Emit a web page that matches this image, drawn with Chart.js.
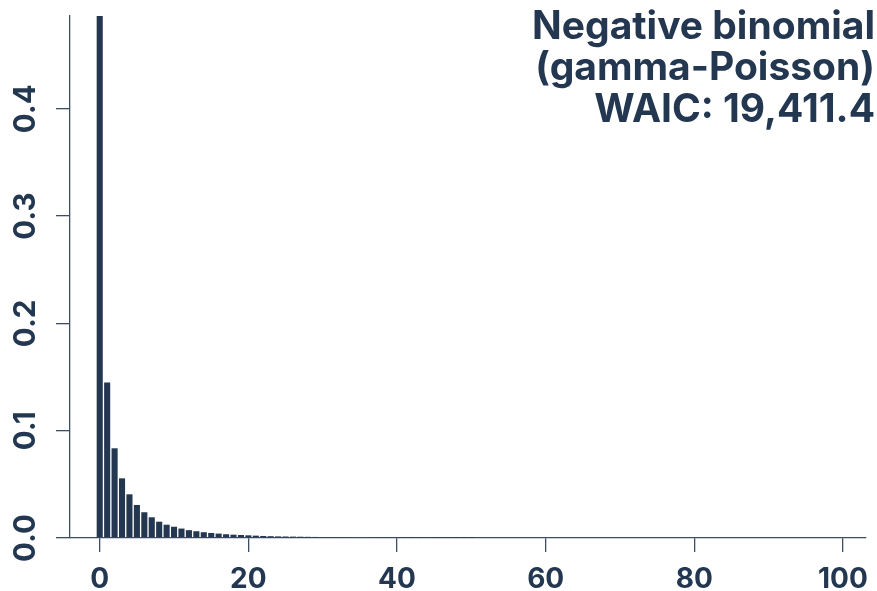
<!DOCTYPE html>
<html>
<head>
<meta charset="utf-8">
<script src="https://cdn.jsdelivr.net/npm/chart.js@4"></script>
<style>
  html, body { margin: 0; padding: 0; background: #ffffff; }
  #wrap { width: 877px; height: 591px; }
</style>
</head>
<body>
<div id="wrap"><canvas id="chart" width="877" height="591"></canvas></div>
<script>
// valores (probabilidad por conteo)
const counts = [];
for (let i = 0; i <= 50; i++) counts.push(i);
const probs = [
  0.4865, 0.145, 0.0836, 0.0556, 0.0407, 0.0308, 0.0240, 0.0193, 0.0152, 0.0124,
  0.0105, 0.0088, 0.0073, 0.0063, 0.0054, 0.0047, 0.0041, 0.0035, 0.0031, 0.0028,
  0.0025, 0.0022, 0.0019, 0.0017, 0.0015, 0.0014, 0.0013, 0.0012, 0.0011, 0.0010,
  0.0009, 0.0009, 0.0008, 0.0008, 0.0007, 0.0006, 0.0005, 0.0005, 0.0004, 0.0004,
  0.0003, 0.0003, 0.0002, 0.0002, 0.0002, 0.0001, 0.0001, 0.0001, 0.0001, 0.0001,
  0.0001
];
const xTicks = [0, 20, 40, 60, 80, 100];
const yTicks = [0.0, 0.1, 0.2, 0.3, 0.4];
const titleLines = ['Negative binomial', '(gamma-Poisson)', 'WAIC: 19,411.4'];

const ink = '#243751';
const axisColor = '#3d4d63';

// Título dibujado dentro del área del gráfico, arriba a la derecha
const titlePlugin = {
    id: 'cornerTitle',
    afterDraw(chart) {
        const ctx = chart.ctx;
        ctx.save();
        ctx.fillStyle = ink;
        ctx.font = 'bold 39px Inter';
        ctx.textAlign = 'right';
        ctx.textBaseline = 'alphabetic';
        titleLines.forEach((line, i) => {
            ctx.fillText(line, 875, 39 + i * 41.4);
        });
        ctx.restore();
    }
};

const data = counts.map((c, i) => ({ x: c, y: probs[i] }));

new Chart(document.getElementById('chart').getContext('2d'), {
    type: 'bar',
    data: {
        datasets: [{
            data: data,
            backgroundColor: ink,
            borderWidth: 0,
            categoryPercentage: 0.82,
            barPercentage: 1.0
        }]
    },
    options: {
        responsive: false,
        animation: false,
        layout: { padding: { top: 16, right: 11, left: 0, bottom: 0 } },
        plugins: {
            legend: { display: false },
            tooltip: { enabled: false }
        },
        scales: {
            x: {
                type: 'linear',
                offset: false,
                min: -4.0,
                max: 103.1,
                afterBuildTicks: s => { s.ticks = xTicks.map(v => ({ value: v })); },
                afterFit: s => { s.height = 53; s.paddingLeft = 0; s.paddingRight = 0; },
                grid: { offset: false, drawOnChartArea: false, drawTicks: true, tickLength: 14, color: axisColor, lineWidth: 1.3 },
                border: { display: true, color: axisColor, width: 1.3 },
                ticks: {
                    color: ink,
                    padding: 11,
                    maxRotation: 0,
                    font: { family: 'Inter', size: 28, weight: 'bold' }
                }
            },
            y: {
                min: 0,
                max: 0.4865,
                afterBuildTicks: s => { s.ticks = yTicks.map(v => ({ value: v })); },
                afterFit: s => { s.width = 70; s.paddingTop = 0; s.paddingBottom = 0; },
                grid: { drawOnChartArea: false, drawTicks: true, tickLength: 14, color: axisColor, lineWidth: 1.3 },
                border: { display: true, color: axisColor, width: 1.3 },
                ticks: {
                    color: ink,
                    padding: 5,
                    minRotation: 90,
                    maxRotation: 90,
                    crossAlign: 'center',
                    callback: v => v.toFixed(1),
                    font: { family: 'Inter', size: 29.5, weight: 'bold' }
                }
            }
        }
    },
    plugins: [titlePlugin]
});
</script>
</body>
</html>
